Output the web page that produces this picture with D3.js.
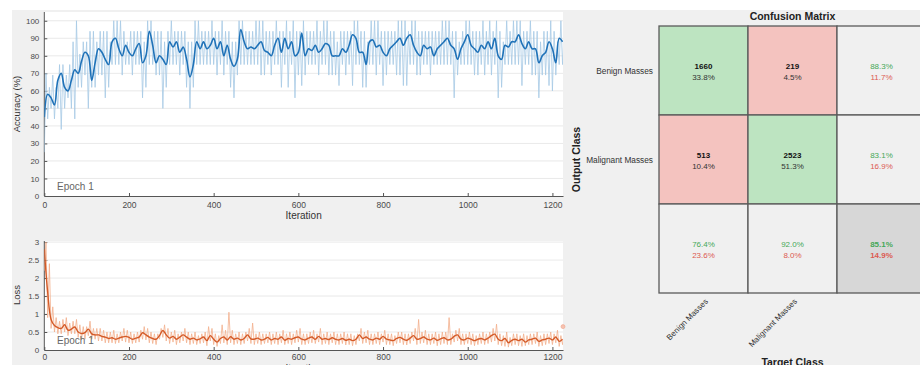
<!DOCTYPE html>
<html><head><meta charset="utf-8">
<script src="https://cdn.jsdelivr.net/npm/d3@7"></script>
<style>body{margin:0;background:#fff}svg{display:block;font-family:"Liberation Sans",Arial,sans-serif}</style>
</head><body><svg id="c" width="920" height="365"></svg>
<script>
// ---------- DATA ----------
const iterStep = 8;           // one value per 8 iterations
const iterMax = 1225;
const xTicks = [0, 200, 400, 600, 800, 1000, 1200];
const accTicks = [0,10,20,30,40,50,60,70,80,90,100];
const lossTicks = [0,0.5,1,1.5,2,2.5,3];
const accSmooth = [45,58,56,52,66,70,62,60,66,72,70,77,82,80,66,76,84,82,78,75,88,90,84,80,86,82,80,84,87,76,80,94,86,76,80,78,75,88,85,88,82,85,78,68,75,88,84,88,84,86,90,84,88,80,86,78,74,78,95,88,84,85,84,86,88,83,82,80,86,90,82,90,84,88,80,82,93,80,84,83,86,82,84,87,86,80,80,80,84,82,86,92,90,82,82,75,88,89,85,86,82,80,84,86,88,90,86,90,92,86,82,80,86,84,85,80,84,86,88,90,86,84,78,84,88,92,86,84,82,86,84,88,84,90,80,78,86,85,88,88,92,87,84,88,84,84,76,80,82,88,84,76,90,88];
const accRawHi = [70,62,69,62,75,75,69,75,88,100,81,88,88,94,94,88,94,94,94,88,100,100,100,94,88,94,94,94,94,88,100,100,94,94,94,88,94,100,94,94,94,94,88,88,100,100,94,94,94,100,94,94,100,94,94,88,88,100,100,94,94,94,100,100,100,94,94,94,100,94,94,100,94,100,94,94,100,94,94,94,100,94,100,100,94,94,88,94,94,94,94,100,100,94,94,88,100,100,100,94,94,94,94,94,100,100,100,94,100,100,94,94,94,94,94,94,94,100,100,100,94,94,88,94,100,100,94,94,94,100,94,100,94,100,94,88,100,94,100,100,100,94,94,100,94,94,88,94,94,100,94,88,100,94];
const accRawLo = [25,44,50,44,50,38,50,56,50,44,62,62,69,50,62,62,69,69,56,62,75,75,75,69,75,75,69,75,75,56,62,75,75,69,69,50,62,75,75,75,69,75,62,50,62,75,75,75,75,75,75,69,75,69,75,62,56,69,75,75,75,75,75,75,69,69,75,69,75,75,62,75,62,75,56,69,63,69,75,75,75,69,75,75,69,69,69,63,75,69,75,63,75,75,62,62,75,75,69,75,63,69,75,75,69,69,63,63,75,75,69,69,75,75,69,75,75,75,75,75,75,56,69,75,75,75,75,69,69,75,69,75,69,75,56,62,75,75,75,75,75,63,75,75,69,69,56,69,69,63,60,69,75,75];
const lossSmooth = [2.8,1.6,0.85,0.68,0.62,0.6,0.7,0.55,0.58,0.64,0.5,0.46,0.48,0.58,0.45,0.42,0.42,0.38,0.36,0.32,0.34,0.3,0.33,0.36,0.38,0.35,0.3,0.33,0.36,0.48,0.42,0.36,0.32,0.3,0.4,0.54,0.42,0.33,0.38,0.3,0.36,0.42,0.36,0.3,0.33,0.28,0.31,0.36,0.26,0.4,0.3,0.22,0.32,0.36,0.28,0.37,0.3,0.33,0.28,0.32,0.42,0.31,0.3,0.33,0.28,0.3,0.35,0.28,0.32,0.3,0.36,0.27,0.32,0.3,0.34,0.36,0.3,0.28,0.33,0.36,0.3,0.38,0.3,0.32,0.29,0.34,0.3,0.28,0.32,0.27,0.3,0.26,0.3,0.42,0.32,0.36,0.3,0.28,0.33,0.3,0.38,0.3,0.28,0.26,0.32,0.35,0.3,0.27,0.33,0.4,0.3,0.32,0.36,0.3,0.28,0.33,0.27,0.31,0.34,0.28,0.3,0.38,0.42,0.3,0.28,0.33,0.3,0.26,0.3,0.32,0.28,0.33,0.4,0.44,0.3,0.26,0.32,0.2,0.27,0.3,0.26,0.3,0.22,0.28,0.3,0.33,0.24,0.28,0.3,0.33,0.28,0.36,0.24,0.3];
const lossRawHi = [3.0,2.4,1.2,0.9,0.8,0.85,0.9,0.75,0.8,0.85,0.7,0.65,0.65,0.8,0.6,0.6,0.6,0.55,0.5,0.5,0.55,0.45,0.5,0.6,0.55,0.5,0.45,0.5,0.55,0.65,0.6,0.5,0.45,0.45,0.6,0.7,0.6,0.5,0.55,0.45,0.5,0.6,0.5,0.45,0.5,0.4,0.45,0.5,0.65,0.6,0.45,0.4,0.7,0.55,1.05,0.55,0.45,0.5,0.45,0.5,0.6,0.75,0.45,0.5,0.45,0.45,0.5,0.45,0.5,0.45,0.55,0.45,0.5,0.45,0.55,0.6,0.45,0.45,0.5,0.55,0.45,0.6,0.45,0.5,0.45,0.5,0.45,0.45,0.5,0.45,0.45,0.4,0.45,0.6,0.5,0.55,0.45,0.45,0.5,0.45,0.55,0.45,0.45,0.4,0.5,0.5,0.45,0.45,0.5,0.6,0.85,0.5,0.55,0.45,0.45,0.5,0.45,0.5,0.5,0.9,0.45,0.55,0.6,0.45,0.45,0.5,0.45,0.4,0.45,0.5,0.45,0.5,0.6,0.72,0.45,0.4,0.5,0.35,0.45,0.45,0.4,0.45,0.4,0.45,0.45,0.5,0.4,0.45,0.45,0.5,0.45,0.55,0.4,0.45];
const lossRawLo = [2.2,0.9,0.6,0.5,0.45,0.45,0.5,0.4,0.45,0.45,0.35,0.3,0.3,0.4,0.3,0.3,0.25,0.25,0.2,0.2,0.2,0.18,0.2,0.25,0.22,0.2,0.18,0.2,0.22,0.3,0.28,0.2,0.18,0.15,0.3,0.35,0.25,0.18,0.22,0.15,0.2,0.25,0.2,0.15,0.18,0.15,0.18,0.2,0.12,0.25,0.15,0.1,0.18,0.2,0.15,0.2,0.15,0.18,0.15,0.18,0.25,0.18,0.15,0.18,0.15,0.18,0.2,0.15,0.18,0.15,0.2,0.15,0.18,0.15,0.2,0.22,0.15,0.15,0.18,0.2,0.18,0.22,0.15,0.18,0.15,0.2,0.15,0.15,0.18,0.14,0.15,0.12,0.15,0.25,0.18,0.2,0.15,0.15,0.18,0.15,0.22,0.15,0.15,0.12,0.18,0.2,0.15,0.14,0.18,0.25,0.15,0.18,0.2,0.15,0.15,0.18,0.12,0.15,0.18,0.15,0.15,0.22,0.25,0.15,0.15,0.18,0.15,0.12,0.15,0.18,0.15,0.18,0.22,0.25,0.15,0.12,0.1,0.08,0.12,0.15,0.12,0.1,0.12,0.15,0.15,0.18,0.1,0.12,0.15,0.18,0.15,0.2,0.1,0.15];
const lossFinalIter = [1225];
const lossFinalValue = [0.65];

const classNames = ["Benign Masses", "Malignant Masses"];
const confCounts = [[1660, 219], [513, 2523]]; // rows = output class, cols = target class

// ---------- DRAW ----------
const svg = d3.select("#c");
svg.append("rect").attr("width",920).attr("height",365).attr("fill","#fff");
svg.append("rect").attr("x",12).attr("y",10).attr("width",908).attr("height",355).attr("fill","#f0f0f0");

const x = d3.scaleLinear().domain([0, iterMax]).range([44.3, 563]);
const yA = d3.scaleLinear().domain([0, 105]).range([196, 12]);
const yL = d3.scaleLinear().domain([0, 3.03]).range([350, 241]);

function panel(y, ticks, fmt, id, label, labelY, xLabelY, xPad) {
  const [y0, y1] = y.range();
  const g = svg.append("g");
  g.append("rect").attr("x", x.range()[0]).attr("y", y1).attr("width", x.range()[1]-x.range()[0]).attr("height", y0-y1).attr("fill","#fff");
  g.append("clipPath").attr("id", id).append("rect").attr("x", x.range()[0]).attr("y", y1).attr("width", x.range()[1]-x.range()[0]).attr("height", y0-y1);
  g.selectAll("line.grid").data(ticks.slice(1)).join("line").attr("class","grid")
    .attr("x1", x.range()[0]).attr("x2", x.range()[1]).attr("y1", d=>y(d)).attr("y2", d=>y(d))
    .attr("stroke","#e3e3e3").attr("stroke-width",0.8);
  const ax = g.append("g").attr("transform",`translate(${x.range()[0]},0)`)
    .call(d3.axisLeft(y).tickValues(ticks).tickFormat(fmt).tickSizeInner(-3).tickSizeOuter(0).tickPadding(5));
  ax.select(".domain").attr("stroke","#555").attr("d", `M0,${y0}V${y1}`);
  ax.selectAll(".tick line").attr("stroke","#555");
  ax.selectAll("text").attr("fill","#4a4a4a").style("font-size","8px").style("font-family","inherit");
  const bx = g.append("g").attr("transform",`translate(0,${y0})`)
    .call(d3.axisBottom(x).tickValues(xTicks).tickFormat(d3.format("d")).tickSizeInner(-3).tickSizeOuter(0).tickPadding(xPad));
  bx.select(".domain").attr("stroke","#555");
  bx.selectAll(".tick line").attr("stroke","#555");
  bx.selectAll("text").attr("fill","#4a4a4a").style("font-size","8.5px").style("font-family","inherit");
  svg.append("text").attr("transform",`translate(20,${labelY}) rotate(-90)`).attr("text-anchor","middle")
    .attr("fill","#333").style("font-size","9.5px").text(label);
  svg.append("text").attr("x", (x.range()[0]+x.range()[1])/2).attr("y", xLabelY).attr("text-anchor","middle")
    .attr("fill","#333").style("font-size","10px").text("Iteration");
  svg.append("text").attr("x",57).attr("y", y0-6).attr("fill","#666").style("font-size","10px").text("Epoch 1");
  return g;
}

const gA = panel(yA, accTicks, d3.format("d"), "clipA", "Accuracy (%)", 104, 219, 6);
const gL = panel(yL, lossTicks, d => d, "clipL", "Loss", 295, 372, 4);

function rawPoints(lo, hi) {
  const pts = [];
  lo.forEach((v, i) => { pts.push([i*iterStep, v]); pts.push([i*iterStep + iterStep/2, hi[i]]); });
  return pts;
}
const lineA = d3.line().x(d=>x(d[0])).y(d=>yA(d[1]));
const lineL = d3.line().x(d=>x(d[0])).y(d=>yL(d[1]));

gA.append("g").attr("clip-path","url(#clipA)").append("path").datum(rawPoints(accRawLo, accRawHi))
  .attr("d", lineA).attr("fill","none").attr("stroke","#a7cae5").attr("stroke-width",0.9).attr("opacity",0.9);
gA.append("g").attr("clip-path","url(#clipA)").append("path").datum(accSmooth.map((v,i)=>[i*iterStep, v]))
  .attr("d", lineA.curve(d3.curveCatmullRom)).attr("fill","none").attr("stroke","#1f72b8").attr("stroke-width",1.6);

gL.append("g").attr("clip-path","url(#clipL)").append("path").datum(rawPoints(lossRawLo, lossRawHi))
  .attr("d", d3.line().x(d=>x(d[0])).y(d=>yL(d[1]))).attr("fill","none").attr("stroke","#f3b08d").attr("stroke-width",0.9).attr("opacity",0.9);
gL.append("g").attr("clip-path","url(#clipL)").append("path").datum(lossSmooth.map((v,i)=>[i*iterStep, v]))
  .attr("d", lineL.curve(d3.curveCatmullRom)).attr("fill","none").attr("stroke","#d45a27").attr("stroke-width",1.4);
gL.selectAll("circle.fin").data(lossFinalIter).join("circle").attr("class","fin")
  .attr("cx", d=>x(d)).attr("cy",(d,i)=>yL(lossFinalValue[i])).attr("r",2).attr("fill","#f7c2b0").attr("stroke","#eea58c").attr("stroke-width",0.6);

// ---------- CONFUSION MATRIX ----------
const n = classNames.length;
const idx = d3.range(n+1);
const cx = d3.scaleBand().domain(idx).range([659, 926]);
const cy = d3.scaleBand().domain(idx).range([26, 293]);
const total = d3.sum(confCounts.flat());
const rowSum = confCounts.map(r => d3.sum(r));
const colSum = d3.range(n).map(j => d3.sum(confCounts, r => r[j]));
const correct = d3.sum(d3.range(n), i => confCounts[i][i]);
const pf = v => (v*100).toFixed(1) + "%";
const cells = [];
idx.forEach(i => idx.forEach(j => {
  let c = {i, j};
  if (i < n && j < n) {
    c.fill = i === j ? "#bde4c1" : "#f4c3bf";
    c.top = String(confCounts[i][j]); c.bot = pf(confCounts[i][j]/total); c.kind = "main";
  } else if (i < n) {
    const a = confCounts[i][i]/rowSum[i]; c.fill = "#f0f0f0"; c.top = pf(a); c.bot = pf(1-a); c.kind = "sum";
  } else if (j < n) {
    const a = confCounts[j][j]/colSum[j]; c.fill = "#f0f0f0"; c.top = pf(a); c.bot = pf(1-a); c.kind = "sum";
  } else {
    const a = correct/total; c.fill = "#d7d7d7"; c.top = pf(a); c.bot = pf(1-a); c.kind = "all";
  }
  cells.push(c);
}));
const cg = svg.append("g");
cg.selectAll("rect").data(cells).join("rect")
  .attr("x", d=>cx(d.j)).attr("y", d=>cy(d.i)).attr("width", cx.bandwidth()).attr("height", cy.bandwidth())
  .attr("fill", d=>d.fill).attr("stroke","#5a5a5a").attr("stroke-width",1.3);
cg.selectAll("text.t").data(cells).join("text").attr("class","t")
  .attr("x", d=>cx(d.j)+cx.bandwidth()/2).attr("y", d=>cy(d.i)+cy.bandwidth()/2-1.5).attr("text-anchor","middle")
  .style("font-size","8px").style("font-weight", d=>d.kind==="sum"?"normal":"bold")
  .attr("fill", d=>d.kind==="main"?"#111":"#46a857").text(d=>d.top);
cg.selectAll("text.b").data(cells).join("text").attr("class","b")
  .attr("x", d=>cx(d.j)+cx.bandwidth()/2).attr("y", d=>cy(d.i)+cy.bandwidth()/2+9.5).attr("text-anchor","middle")
  .style("font-size","8px").style("font-weight", d=>d.kind==="all"?"bold":"normal")
  .attr("fill", d=>d.kind==="main"?"#333":"#dc5a50").text(d=>d.bot);
svg.append("text").attr("x",(cx.range()[0]+cx.range()[1])/2).attr("y",20).attr("text-anchor","middle")
  .style("font-size","10.5px").style("font-weight","bold").attr("fill","#222").text("Confusion Matrix");
svg.selectAll("text.rl").data(classNames).join("text").attr("class","rl")
  .attr("x",653).attr("y",(d,i)=>cy(i)+cy.bandwidth()/2+3).attr("text-anchor","end")
  .style("font-size","8.3px").attr("fill","#333").text(d=>d);
svg.selectAll("text.cl").data(classNames).join("text").attr("class","cl")
  .attr("transform",(d,i)=>`translate(${cx(i)+cx.bandwidth()/2+5},302) rotate(-45)`).attr("text-anchor","end")
  .style("font-size","8px").attr("fill","#333").text(d=>d);
svg.append("text").attr("transform",`translate(580,${(cy.range()[0]+cy.range()[1])/2}) rotate(-90)`).attr("text-anchor","middle")
  .style("font-size","10.5px").style("font-weight","bold").attr("fill","#222").text("Output Class");
svg.append("text").attr("x",(cx.range()[0]+cx.range()[1])/2).attr("y",366).attr("text-anchor","middle")
  .style("font-size","10.5px").style("font-weight","bold").attr("fill","#222").text("Target Class");
</script></body></html>
